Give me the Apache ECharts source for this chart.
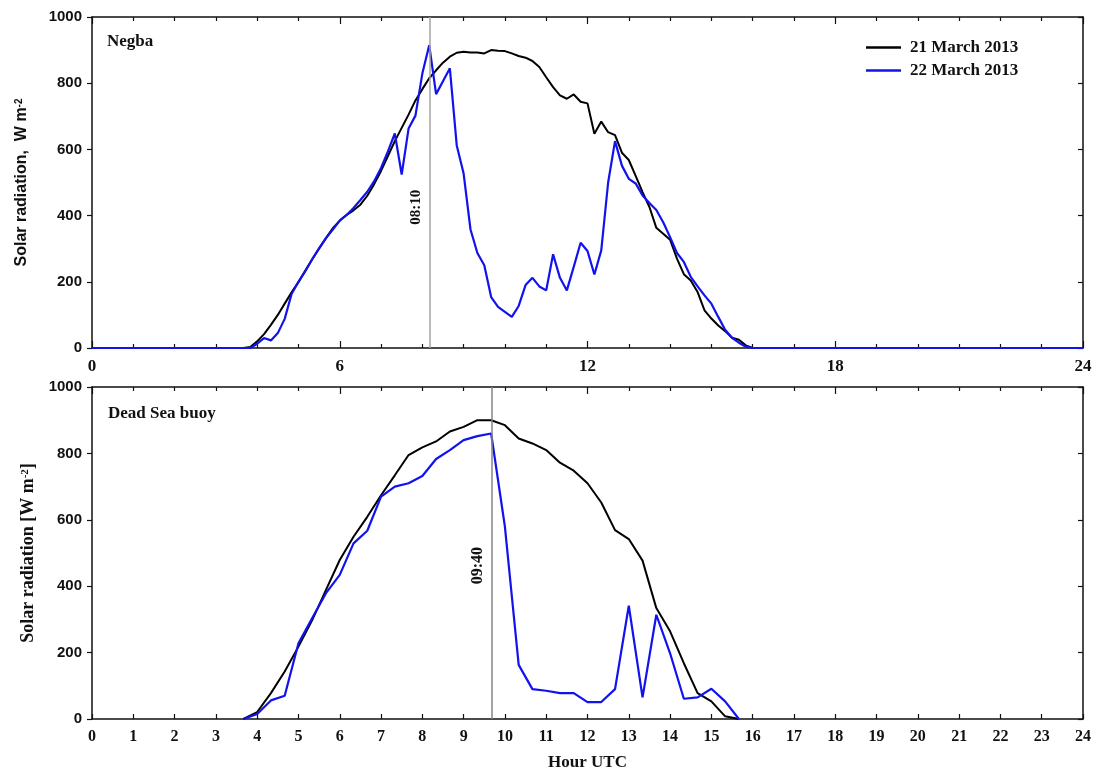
<!DOCTYPE html>
<html>
<head>
<meta charset="utf-8">
<title>Solar radiation, Negba and Dead Sea buoy</title>
<script src="https://cdn.jsdelivr.net/npm/echarts@6/dist/echarts.min.js"></script>
<style>
  html, body { margin: 0; padding: 0; background: #fff; }
  #mychart { width: 1099px; height: 773px; }
</style>
</head>
<body>
<div id="mychart"></div>
<script>
// Negba, 10 min samples from 03:40 to 16:00 (W m-2)
const negbaStart = 3 + 40 / 60
const negbaStep = 10 / 60
const negba21 = [
  0, 3, 20, 42, 70, 100, 134, 168, 199, 234, 268, 300, 332, 362,
  385, 402, 416, 433, 460, 495,
  535, 580, 625, 665, 705, 748,
  782, 815, 839, 862, 880, 892,
  895, 893, 893, 890, 900, 898,
  897, 890, 882, 877, 867, 849,
  818, 788, 763, 753, 766, 744,
  739, 647, 684, 652, 643, 590,
  568, 520, 471, 426, 363, 345,
  327, 270, 223, 204, 169, 114,
  89, 68, 51, 31, 25, 8,
  0
]
const negba22 = [
  0, 0, 13, 30, 23, 45, 88, 163, 200, 232, 268, 302, 332, 358,
  385, 402, 423, 447, 472, 504,
  544, 594, 648, 524, 663, 702,
  829, 915, 767, 806, 845, 612,
  527, 358, 287, 250, 154, 124,
  109, 94, 127, 190, 212, 186,
  174, 283, 212, 174, 245, 318,
  293, 222, 295, 500, 625, 551,
  511, 497, 461, 438, 417, 380,
  335, 287, 260, 215, 186, 159,
  134, 94, 55, 31, 16, 4,
  0
]

// Dead Sea buoy, 20 min samples from 03:40 to 15:40 (W m-2)
const deadSeaStart = 3 + 40 / 60
const deadSeaStep = 20 / 60
const deadSea21 = [
  0, 21, 78, 143, 218, 298, 389, 479, 549, 609, 674, 734, 795,
  818, 836, 866, 880, 900, 900, 885, 845, 830, 810, 772, 748,
  710, 652, 569, 542, 477, 334, 264, 168, 78, 53, 8, 0
]
const deadSea22 = [
  0, 15, 56, 70, 228, 304, 379, 434, 529, 567, 670, 700, 710,
  732, 783, 810, 840, 852, 860, 579, 163, 90, 85, 78, 78,
  51, 51, 90, 341, 65, 314, 198, 61, 65, 91, 53, 0
]

const seriesNames = ['21 March 2013', '22 March 2013']
const negbaEvent = { label: '08:10', hour: 8 + 10 / 60, labelY: 425 }
const deadSeaEvent = { label: '09:40', hour: 9 + 40 / 60, labelY: 462 }

const serif = 'Liberation Serif'
const sans = 'Liberation Sans'
const ink = '#111'
const blue = '#1212ee'

function toPairs (start, step, values) {
  return values.map((v, i) => [start + i * step, v])
}

// night hours are flat zero in the Negba panel
const negba21Data = [[0, 0]].concat(toPairs(negbaStart, negbaStep, negba21), [[24, 0]])
const negba22Data = [[0, 0]].concat(toPairs(negbaStart, negbaStep, negba22), [[24, 0]])
const deadSea21Data = toPairs(deadSeaStart, deadSeaStep, deadSea21)
const deadSea22Data = toPairs(deadSeaStart, deadSeaStep, deadSea22)

const frameLine = { show: true, onZero: false, lineStyle: { color: ink, width: 1.5 } }
const tickLine = { color: ink, width: 1.2 }
const plainNumber = (v) => String(v)

function eventMarks (ev, lineColor, fontSize) {
  return {
    markLine: {
      silent: true,
      animation: false,
      symbol: ['none', 'none'],
      label: { show: false },
      lineStyle: { color: lineColor, width: 1.5, type: 'solid' },
      data: [{ xAxis: ev.hour }]
    },
    markPoint: {
      silent: true,
      animation: false,
      symbol: 'circle',
      symbolSize: 1,
      itemStyle: { color: 'transparent' },
      label: {
        show: true,
        position: 'inside',
        rotate: 90,
        // offset works in the rotated frame: negative y moves it left
        offset: [0, -13],
        formatter: ev.label,
        fontFamily: serif,
        fontWeight: 'bold',
        fontSize: fontSize,
        color: ink
      },
      data: [{ coord: [ev.hour, ev.labelY] }]
    }
  }
}

let myChart = echarts.init(document.getElementById('mychart'))
myChart.setOption({
  animation: false,
  backgroundColor: '#fff',
  title: [
    {
      text: 'Negba',
      left: 107,
      top: 33,
      padding: 0,
      textStyle: { fontFamily: serif, fontWeight: 'bold', fontSize: 17, color: ink }
    },
    {
      text: 'Dead Sea buoy',
      left: 108,
      top: 405,
      padding: 0,
      textStyle: { fontFamily: serif, fontWeight: 'bold', fontSize: 17, color: ink }
    }
  ],
  legend: {
    data: seriesNames,
    orient: 'vertical',
    left: 866,
    top: 39,
    padding: 0,
    icon: 'rect',
    itemWidth: 35,
    itemHeight: 2.5,
    itemGap: 6,
    textStyle: { fontFamily: serif, fontWeight: 'bold', fontSize: 17, color: ink, padding: [0, 0, 0, 4] }
  },
  grid: [
    { left: 92, right: 16, top: 17, height: 331 },
    { left: 92, right: 16, top: 387, height: 332 }
  ],
  xAxis: [
    {
      gridIndex: 0,
      type: 'value',
      min: 0,
      max: 24,
      interval: 6,
      axisLine: frameLine,
      axisTick: { inside: true, length: 7, lineStyle: tickLine },
      minorTick: { show: true, splitNumber: 6, length: 4, lineStyle: tickLine },
      splitLine: { show: false },
      axisLabel: { margin: 10, fontFamily: serif, fontWeight: 'bold', fontSize: 17, color: ink }
    },
    {
      gridIndex: 0,
      type: 'value',
      position: 'top',
      min: 0,
      max: 24,
      interval: 6,
      axisLine: frameLine,
      axisTick: { inside: true, length: 7, lineStyle: tickLine },
      minorTick: { show: true, splitNumber: 6, length: 4, lineStyle: tickLine },
      splitLine: { show: false },
      axisLabel: { show: false }
    },
    {
      gridIndex: 1,
      type: 'value',
      min: 0,
      max: 24,
      interval: 1,
      name: 'Hour UTC',
      nameLocation: 'middle',
      nameGap: 35,
      nameTextStyle: { fontFamily: serif, fontWeight: 'bold', fontSize: 17, color: ink },
      axisLine: frameLine,
      axisTick: { inside: true, length: 5, lineStyle: tickLine },
      splitLine: { show: false },
      axisLabel: { margin: 10, fontFamily: serif, fontWeight: 'bold', fontSize: 16, color: ink }
    },
    {
      gridIndex: 1,
      type: 'value',
      position: 'top',
      min: 0,
      max: 24,
      interval: 6,
      axisLine: frameLine,
      axisTick: { inside: true, length: 7, lineStyle: tickLine },
      minorTick: { show: true, splitNumber: 6, length: 4, lineStyle: tickLine },
      splitLine: { show: false },
      axisLabel: { show: false }
    }
  ],
  yAxis: [
    {
      gridIndex: 0,
      type: 'value',
      min: 0,
      max: 1000,
      interval: 200,
      name: 'Solar radiation,  W m{sup|-2}',
      nameLocation: 'middle',
      nameGap: 62,
      nameTextStyle: {
        fontFamily: sans,
        fontWeight: 'bold',
        fontSize: 16,
        color: ink,
        rich: { sup: { fontFamily: sans, fontWeight: 'bold', fontSize: 10, verticalAlign: 'top', color: ink } }
      },
      axisLine: frameLine,
      axisTick: { inside: false, length: 5, lineStyle: tickLine },
      splitLine: { show: false },
      axisLabel: { margin: 10, formatter: plainNumber, fontFamily: sans, fontWeight: 'bold', fontSize: 15, color: ink }
    },
    {
      gridIndex: 0,
      type: 'value',
      position: 'right',
      min: 0,
      max: 1000,
      interval: 200,
      axisLine: frameLine,
      axisTick: { inside: true, length: 5, lineStyle: tickLine },
      splitLine: { show: false },
      axisLabel: { show: false }
    },
    {
      gridIndex: 1,
      type: 'value',
      min: 0,
      max: 1000,
      interval: 200,
      name: 'Solar radiation [W m{sup|-2}]',
      nameLocation: 'middle',
      nameGap: 49,
      nameTextStyle: {
        fontFamily: serif,
        fontWeight: 'bold',
        fontSize: 18,
        color: ink,
        rich: { sup: { fontFamily: serif, fontWeight: 'bold', fontSize: 11, verticalAlign: 'top', color: ink } }
      },
      axisLine: frameLine,
      axisTick: { inside: false, length: 5, lineStyle: tickLine },
      splitLine: { show: false },
      axisLabel: { margin: 10, formatter: plainNumber, fontFamily: sans, fontWeight: 'bold', fontSize: 15, color: ink }
    },
    {
      gridIndex: 1,
      type: 'value',
      position: 'right',
      min: 0,
      max: 1000,
      interval: 200,
      axisLine: frameLine,
      axisTick: { inside: true, length: 5, lineStyle: tickLine },
      splitLine: { show: false },
      axisLabel: { show: false }
    }
  ],
  series: [
    {
      name: seriesNames[0],
      type: 'line',
      xAxisIndex: 0,
      yAxisIndex: 0,
      data: negba21Data,
      symbol: 'none',
      color: '#000',
      lineStyle: { color: '#000', width: 2 },
      z: 3
    },
    Object.assign({
      name: seriesNames[1],
      type: 'line',
      xAxisIndex: 0,
      yAxisIndex: 0,
      data: negba22Data,
      symbol: 'none',
      color: blue,
      lineStyle: { color: blue, width: 2.2 },
      z: 4
    }, eventMarks(negbaEvent, '#a3a3a3', 15)),
    {
      name: seriesNames[0],
      type: 'line',
      xAxisIndex: 2,
      yAxisIndex: 2,
      data: deadSea21Data,
      symbol: 'none',
      color: '#000',
      lineStyle: { color: '#000', width: 2 },
      z: 3
    },
    Object.assign({
      name: seriesNames[1],
      type: 'line',
      xAxisIndex: 2,
      yAxisIndex: 2,
      data: deadSea22Data,
      symbol: 'none',
      color: blue,
      lineStyle: { color: blue, width: 2.2 },
      z: 4
    }, eventMarks(deadSeaEvent, '#858585', 16))
  ]
})
</script>
</body>
</html>
